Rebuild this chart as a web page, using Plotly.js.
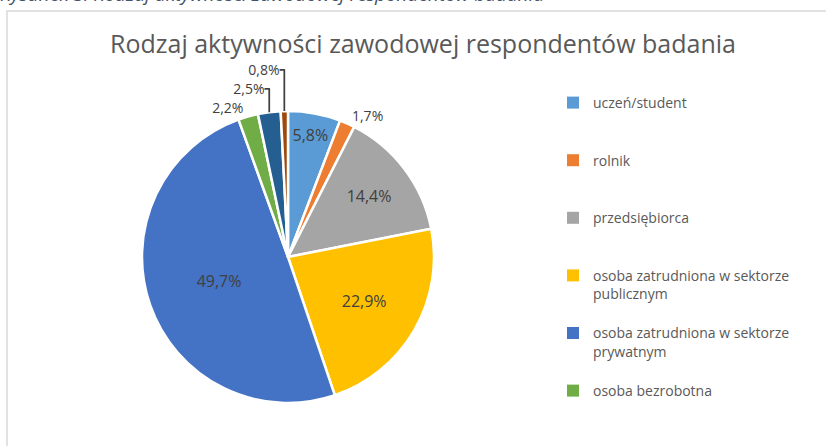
<!DOCTYPE html>
<html><head><meta charset="utf-8">
<script src="https://cdn.plot.ly/plotly-3.0.1.min.js"></script>
<style>html,body{margin:0;padding:0;background:#fff;} #chart{width:826px;height:446px;}</style>
</head><body><div id="chart"></div>
<script>
// ---- data ----
const categories = ['uczeń/student', 'rolnik', 'przedsiębiorca',
  'osoba zatrudniona w sektorze publicznym', 'osoba zatrudniona w sektorze prywatnym',
  'osoba bezrobotna', 'emeryt/rencista', 'inne'];
const percents = [5.8, 1.7, 14.4, 22.9, 49.7, 2.2, 2.5, 0.8];
const colors = ['#5B9BD5', '#ED7D31', '#A5A5A5', '#FFC000', '#4472C4', '#70AD47', '#255E91', '#9E480E'];
const labelPositions = ['inside', 'outside', 'inside', 'inside', 'inside', 'outside', 'outside', 'outside'];
const legendShown = 6;
const chartTitle = 'Rodzaj aktywności zawodowej respondentów badania';
const caption = 'Rysunek 3. Rodzaj aktywności zawodowej respondentów badania';

// ---- helpers ----
function wrap(s, max) {
  const words = s.split(' ');
  const lines = [];
  let cur = '';
  words.forEach(w => {
    if (cur && (cur + ' ' + w).length > max) { lines.push(cur); cur = w; }
    else cur = cur ? cur + ' ' + w : w;
  });
  if (cur) lines.push(cur);
  while (lines.length < 3) lines.push(' ');
  return lines.join('<br>');
}
const legendLabels = categories.map(c => wrap(c, 28));
const pctText = percents.map(v => v.toFixed(1).replace('.', ',') + '%');

const FONT = 'Open Sans, sans-serif';

const legendProxy = {
  type: 'pie',
  labels: legendLabels.slice(0, legendShown),
  values: percents.slice(0, legendShown),
  marker: {colors: colors.slice(0, legendShown)},
  sort: false,
  textinfo: 'none',
  hoverinfo: 'skip',
  showlegend: true,
  domain: {x: [0.24, 0.2412], y: [0.42, 0.4222]}
};

const mainPie = {
  type: 'pie',
  labels: legendLabels,
  values: percents,
  text: pctText,
  textinfo: 'text',
  hovertext: categories,
  hoverinfo: 'text+percent',
  textposition: labelPositions,
  insidetextorientation: 'horizontal',
  textfont: {family: FONT, size: 16, color: '#404040'},
  outsidetextfont: {family: FONT, size: 14, color: '#404040'},
  marker: {colors: colors, line: {color: '#FFFFFF', width: 2.5}},
  sort: false,
  direction: 'clockwise',
  rotation: 0,
  showlegend: false,
  domain: {x: [142 / 826, 434 / 826], y: [(189 - 146) / 446, (189 + 146) / 446]}
};

const layout = {
  width: 826, height: 446,
  margin: {l: 0, r: 0, t: 0, b: 0, autoexpand: false},
  paper_bgcolor: '#FFFFFF',
  font: {family: FONT, color: '#595959'},
  title: {
    text: chartTitle,
    font: {family: FONT, size: 25, color: '#595959'},
    x: 423 / 826, xanchor: 'center', xref: 'container',
    y: 1 - 44 / 446, yanchor: 'middle', yref: 'container'
  },
  legend: {
    x: 553 / 826, xanchor: 'left',
    y: 1 - 87 / 446, yanchor: 'top',
    font: {family: FONT, size: 14, color: '#595959'},
    valign: 'top',
    bgcolor: 'rgba(0,0,0,0)',
    borderwidth: 0
  },
  annotations: [{
    text: '<i>' + caption + '</i>',
    xref: 'paper', yref: 'paper',
    x: -2 / 826, xanchor: 'left',
    y: 1 - 9 / 446, yanchor: 'bottom',
    showarrow: false,
    font: {family: FONT, size: 19, color: '#44546A'}
  }],
  shapes: [{
    type: 'rect', xref: 'paper', yref: 'paper', layer: 'below',
    x0: 7 / 826, x1: 1.05, y0: -0.1, y1: 1 - 11 / 446,
    line: {color: '#D9D9D9', width: 1.5}, fillcolor: 'rgba(0,0,0,0)'
  }]
};

Plotly.newPlot('chart', [legendProxy, mainPie], layout, {displayModeBar: false});
</script>
</body></html>
